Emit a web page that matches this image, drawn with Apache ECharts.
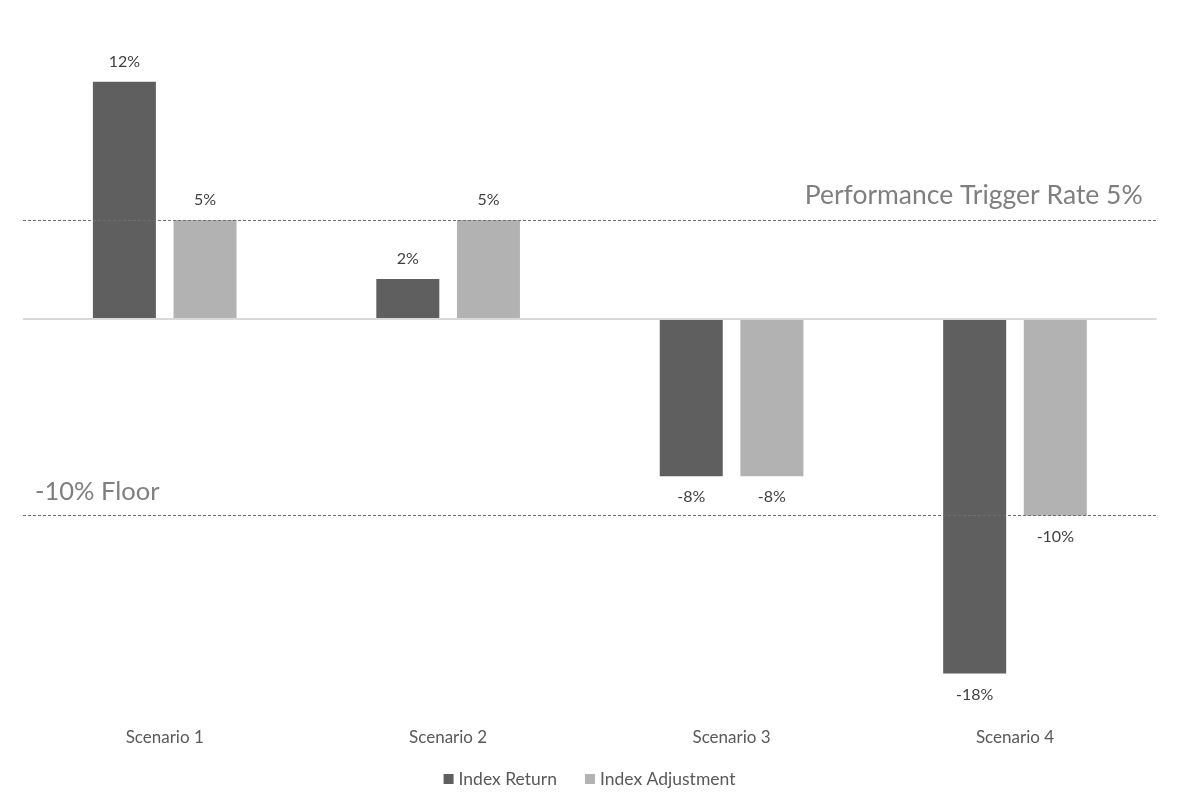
<!DOCTYPE html>
<html><head><meta charset="utf-8">
<script src="https://cdn.jsdelivr.net/npm/echarts@6/dist/echarts.min.js"></script>
<style>html,body{margin:0;padding:0;background:#fff}#c{width:1179px;height:809px}</style>
</head><body><div id="c"></div>
<script>
const categories = ['Scenario 1', 'Scenario 2', 'Scenario 3', 'Scenario 4'];
const indexReturn = [12, 2, -8, -18];
const indexAdjustment = [5, 5, -8, -10];
const triggerRate = 5;
const floorRate = -10;
const triggerLabel = 'Performance Trigger Rate 5%';
const floorLabel = '-10% Floor';

const FONT = 'Lato';
function mk(vals) {
  return vals.map(v => ({ value: v, label: { position: v < 0 ? 'bottom' : 'top', distance: v < 0 ? 13 : 12 } }));
}
const chart = echarts.init(document.getElementById('c'), null, { renderer: 'canvas' });
chart.setOption({
  animation: false,
  backgroundColor: '#fff',
  textStyle: { fontFamily: FONT },
  grid: { left: 23, right: 22.3, top: 22.7, bottom: 96.1 },
  legend: {
    bottom: 16, left: 'center', itemWidth: 10, itemHeight: 10, itemGap: 28,
    icon: 'rect',
    textStyle: { fontFamily: FONT, fontSize: 17.5, color: '#595959' },
    data: ['Index Return', 'Index Adjustment']
  },
  xAxis: {
    type: 'category', data: categories,
    axisLine: { show: false, onZero: false }, axisTick: { show: false },
    axisLabel: { fontFamily: FONT, fontSize: 17, color: '#595959', margin: 16 }
  },
  yAxis: {
    type: 'value', min: -20, max: 15, interval: 5,
    show: false, splitLine: { show: false }
  },
  series: [
    {
      name: 'Index Return', type: 'bar', data: mk(indexReturn),
      barWidth: 63, barGap: '28%',
      itemStyle: { color: '#5f5f5f' },
      label: { show: true, formatter: p => p.value + '%',
        fontFamily: FONT, fontSize: 16, color: '#404040' },
      markLine: {
        silent: true, symbol: 'none',
        data: [
          { yAxis: 0, lineStyle: { type: 'solid', color: '#d9d9d9', width: 2 }, label: { show: false } },
          { yAxis: triggerRate, lineStyle: { type: [3, 2], color: '#6f6f6f', width: 1 },
            label: { show: true, position: 'insideEndTop', formatter: triggerLabel, distance: [14, 11],
              fontFamily: FONT, fontSize: 26.5, color: '#7f7f7f' } },
          { yAxis: floorRate, lineStyle: { type: [3, 2], color: '#6f6f6f', width: 1 },
            label: { show: true, position: 'insideStartTop', formatter: floorLabel, distance: [12, 11],
              fontFamily: FONT, fontSize: 25.5, color: '#7f7f7f' } }
        ]
      }
    },
    {
      name: 'Index Adjustment', type: 'bar', data: mk(indexAdjustment),
      barWidth: 63,
      itemStyle: { color: '#b2b2b2' },
      label: { show: true, formatter: p => p.value + '%',
        fontFamily: FONT, fontSize: 16, color: '#404040' }
    }
  ]
});
</script></body></html>
